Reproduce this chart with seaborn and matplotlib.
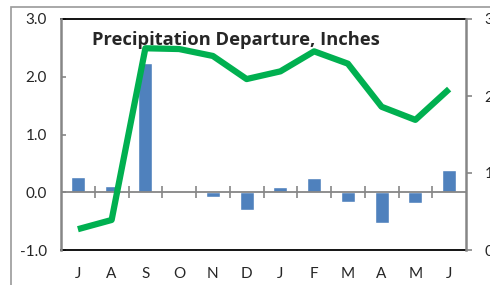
import numpy as np
import matplotlib
matplotlib.use("Agg")
import matplotlib.pyplot as plt
import seaborn as sns
from matplotlib.patches import Rectangle

# data
months = ["J", "A", "S", "O", "N", "D", "J", "F", "M", "A", "M", "J"]
departure = [0.27, 0.11, 2.23, 0.0, -0.09, -0.30, 0.09, 0.24, -0.17, -0.54, -0.19, 0.39]
cumulative = [0.27, 0.39, 2.62, 2.61, 2.52, 2.22, 2.32, 2.58, 2.42, 1.86, 1.69, 2.09]
left_ticks = [-1.0, 0.0, 1.0, 2.0, 3.0]
right_ticks = [0, 1, 2, 3]

sns.set_style("white")
plt.rcParams["font.family"] = ["Lato", "DejaVu Sans"]

fig = plt.figure(figsize=(4.9, 2.85), dpi=100)
ax = fig.add_axes([61 / 490, 35 / 285, 405 / 490, 231 / 285])
ax2 = ax.twinx()

idx = np.arange(len(months))
sns.barplot(x=idx, y=departure, color="#4F81BD", saturation=1, width=0.42,
            ax=ax, zorder=2)
sns.lineplot(x=idx, y=cumulative, color="#00B050", linewidth=4.5, ax=ax2,
             solid_capstyle="butt")

grey = "#868686"

ax.set_xlim(-0.5, 11.5)
ax.set_ylim(-1, 3)
ax.set_yticks(left_ticks)
ax.set_yticklabels([f"{v:.1f}" for v in left_ticks])
ax.set_xticks(idx)
ax.set_xticklabels(months)
ax.tick_params(axis="x", length=0, pad=12, labelsize=11)
ax.tick_params(axis="y", direction="in", length=3.6, width=1.2, color=grey,
               pad=10, labelsize=11, left=True)
for s in ["top", "bottom"]:
    ax.spines[s].set_color("black")
    ax.spines[s].set_linewidth(1.3)
ax.spines["left"].set_color(grey)
ax.spines["left"].set_linewidth(1.8)
ax.spines["left"].set_zorder(5)
ax.spines["right"].set_visible(False)

# category axis crossing at zero
ax.axhline(0, color=grey, lw=1.3, zorder=3)
zero_ax = ax.secondary_xaxis(0.25)
zero_ax.spines["bottom"].set_visible(False)
zero_ax.set_xticks(idx[:-1] + 0.5)
zero_ax.tick_params(axis="x", direction="inout", length=9, width=1.2,
                    color=grey, labelbottom=False, bottom=True)

ax2.set_ylim(0, 3)
ax2.set_yticks(right_ticks)
ax2.set_yticklabels([f"{v:.1f}" for v in right_ticks])
ax2.tick_params(axis="y", direction="out", length=4, width=1.2, color=grey,
                pad=9.5, labelsize=11, right=True)
ax2.spines["right"].set_color(grey)
ax2.spines["right"].set_linewidth(1.8)
for s in ["top", "bottom", "left"]:
    ax2.spines[s].set_visible(False)
ax2.set_ylabel("")

fig.text(92 / 490, 1 - 45 / 285, "Precipitation Departure, Inches",
         fontsize=13.2, fontweight="bold", ha="left", va="baseline",
         family=["Open Sans", "DejaVu Sans"])

# outer chart frame (cut off by the image edge)
fig.add_artist(Rectangle((10.5 / 490, -0.2), 1.2, 1.2 - 7 / 285,
                         transform=fig.transFigure, fill=False,
                         edgecolor="#9a9a9a", lw=1.2))

fig.savefig("out.png", dpi=100)
